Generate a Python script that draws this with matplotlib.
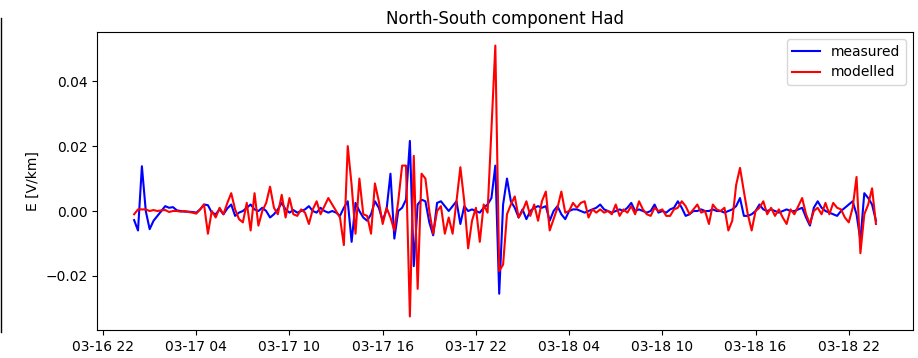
import matplotlib
matplotlib.use("Agg")
import matplotlib.pyplot as plt
import matplotlib.dates as mdates
from matplotlib.lines import Line2D
import numpy as np
import pandas as pd

# 15-minute samples starting 2015-03-17 00:00 (UT)
start = "2015-03-17 00:00"
step = "15min"

# North-South geoelectric field, in mV/km
measured_mv = [
    -2.8, -6.0, 13.8, 0.0, -5.6, -3.0, -1.5, 0.0, 1.5, 1.0,
    1.2, 0.2, 0.0, -0.2, -0.2, -0.3, -0.5, 0.5, 2.0, 1.8,
    -0.5, -1.0, 0.5, -1.0, 0.8, 2.0, -1.5, -0.5, 0.0, 1.0,
    2.0, 0.5, 0.0, 1.0, 0.0, -2.0, -1.0, 0.5, 2.5, 0.5,
    -0.5, 0.3, -0.5, 0.0, 0.5, 1.5, 0.0, -0.5, 1.0, 0.0,
    -0.5, 0.0, -0.5, -1.5, 1.0, 3.0, -9.5, 2.5, 0.0, -2.0,
    -3.0, -1.0, 3.0, 1.0, -3.0, 0.5, 11.5, -8.5, 0.0, 1.0,
    3.5, 21.6, -17.0, 2.0, 3.5, 3.0, -3.5, -7.5, 2.5, 3.0,
    1.5, 0.0, 1.5, 3.0, -4.0, 1.5, 0.0, 0.5, 0.0, -0.5,
    1.0, 2.0, 4.0, 14.0, -25.5, 2.0, 10.0, 3.0, 1.0, -2.0,
    0.5, -2.5, 0.0, 1.0, 1.5, 1.0, 1.5, -3.0, 0.0, 1.5,
    -1.0, -2.5, 0.0, 0.5, 0.5, 0.0, -0.5, 0.0, 0.5, 1.0,
    2.0, 0.5, 0.0, -0.5, 0.0, 0.5, 0.0, 1.0, 2.5, 0.0,
    0.5, 0.0, -0.5, 0.0, 2.0, -0.5, 0.0, -0.5, 0.5, 1.0,
    3.0, 1.0, -1.5, -1.0, 0.0, 0.0, 0.5, 0.0, 0.0, 0.5,
    0.0, 0.0, -0.5, 0.0, 0.5, 1.5, 4.0, -1.5, -1.5, -1.0,
    0.0, 2.0, 0.5, 0.0, 0.5, 0.0, -0.5, 0.0, 0.5, 0.0,
    0.0, 0.5, 1.0, -2.0, -4.5, 1.0, 3.0, 1.0, 0.0, -0.5,
    -1.0, -1.5, 0.0, 1.0, 2.0, 3.0, -1.0, -9.0, 5.5, 4.0,
    2.0, -3.0,
]

modelled_mv = [
    -1.0, 0.5, 0.5, 0.5, 0.0, 0.3, 0.0, 0.2, 0.3, -0.3,
    0.0, 0.0, -0.2, 0.0, -0.3, -0.5, -0.8, 0.5, 2.0, -7.0,
    0.0, -2.0, 1.0, -1.0, 2.5, 5.5, 0.5, -2.5, -3.5, 2.5,
    -6.0, 5.5, -4.5, 0.0, 2.5, 7.5, 1.0, -1.0, 5.0, -2.0,
    4.0, -1.0, -1.5, 0.5, -0.5, -4.0, 0.5, 3.0, -1.0, 1.5,
    4.0, 2.0, 0.0, -2.0, -10.5, 20.0, 8.0, -7.0, 10.0, -1.0,
    -1.5, -7.0, 8.5, 3.0, -4.0, 1.0, -2.0, -6.0, 3.0, 14.0,
    14.0, -32.5, 17.0, -24.0, 11.5, 10.0, 0.0, -7.0, 0.0, 1.5,
    -7.0, -2.0, -7.0, 3.0, 13.5, 3.0, -11.5, -3.0, 1.0, -9.5,
    2.0, -0.5, 25.5, 51.0, -18.5, -16.5, -1.0, 2.0, 4.5, -2.0,
    0.0, 3.0, -1.5, 2.0, -3.0, 3.0, 6.0, -6.0, -2.5, 1.0,
    6.0, -0.5, 0.0, 2.5, 1.0, 2.5, 3.0, -2.0, 0.5, -0.5,
    0.5, -0.5, 0.0, -1.0, 2.0, -1.5, 0.5, -0.5, 1.5, -1.0,
    3.0, 0.5, -1.0, -1.5, 1.0, 0.0, 0.5, -1.5, -1.5, 0.5,
    1.0, 3.0, 1.5, -1.0, 0.5, 2.0, -0.5, 0.0, -4.0, 2.0,
    0.5, 0.0, 1.0, -6.0, -3.0, 8.0, 13.3, 6.0, -1.0, -6.0,
    0.0, 1.0, 3.0, -1.0, 1.0, -1.5, 0.5, -2.0, -4.0, 0.5,
    -1.0, 1.5, 4.0, -1.0, -4.0, 0.0, 1.0, -1.0, 2.5, -1.0,
    2.5, 1.0, 0.5, -2.0, -3.5, 1.0, 10.5, -13.0, -1.0, 2.0,
    7.0, -4.0,
]

times = pd.date_range(start, periods=len(measured_mv), freq=step)
measured = np.array(measured_mv) * 1e-3   # V/km
modelled = np.array(modelled_mv) * 1e-3

fig = plt.figure(figsize=(9.18, 3.58), dpi=100)
ax = fig.add_axes([0.1057, 0.0782, 0.8889, 0.8324])

ax.plot(times, measured, color="blue", label="measured")
ax.plot(times, modelled, color="red", label="modelled")

ax.set_title("North-South component Had")
ax.set_ylabel("E [V/km]")
ax.xaxis.set_major_locator(mdates.HourLocator(byhour=[4, 10, 16, 22]))
ax.xaxis.set_major_formatter(mdates.DateFormatter("%m-%d %H"))
ax.legend(loc="upper right")

# edge of the neighbouring panel
fig.add_artist(Line2D([0.0016, 0.0016], [1 - 332 / 358, 1 - 18 / 358],
                      transform=fig.transFigure, color="black", lw=1.0))

plt.savefig("out.png", dpi=100)
